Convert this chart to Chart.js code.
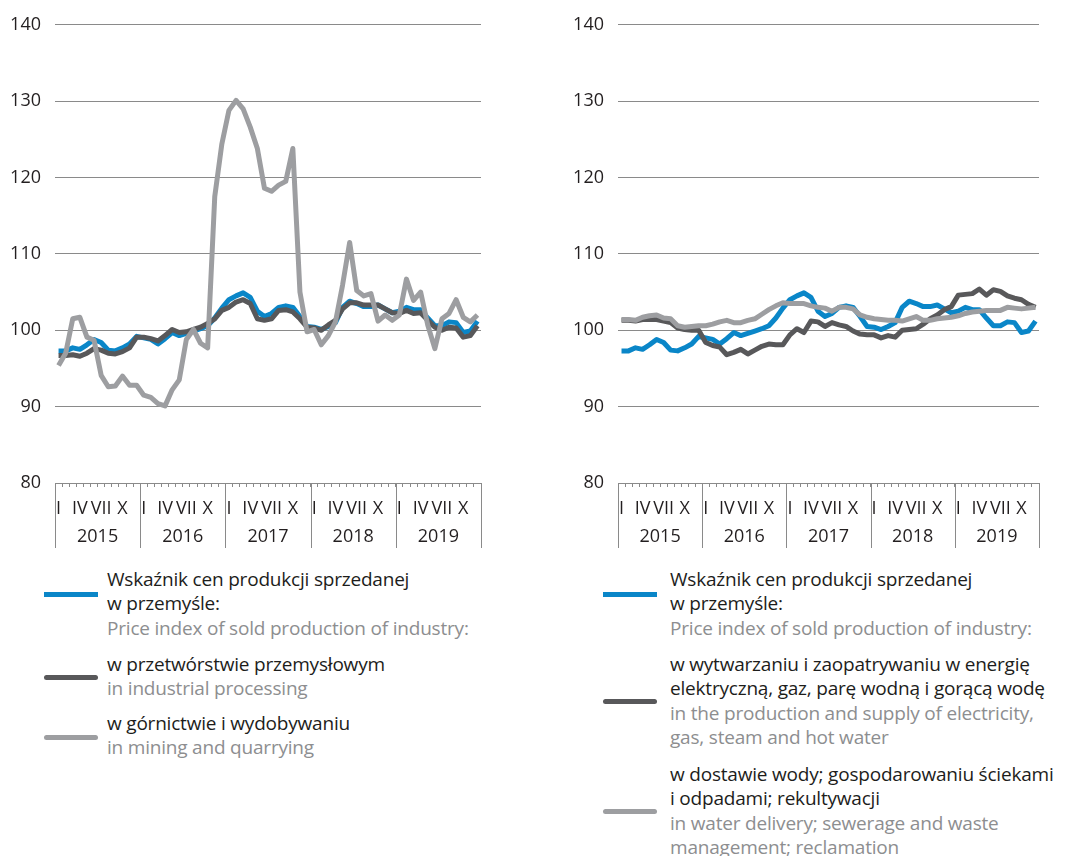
<!DOCTYPE html>
<html>
<head>
<meta charset="utf-8">
<script src="https://cdn.jsdelivr.net/npm/chart.js@4.4.1/dist/chart.umd.min.js"></script>
<style>
  body { margin: 0; background: #fff; }
  #page { position: relative; width: 1071px; height: 856px; overflow: hidden; font-family: 'Open Sans', sans-serif; }
  canvas { position: absolute; top: 0; }
  .item { position: absolute; font-size: 19px; line-height: 24.3px; white-space: nowrap; letter-spacing: -0.2px; }
  .pl { color: #1d1d1b; }
  .en { color: #8d8e90; }
  .swatch { position: absolute; width: 54px; height: 5px; border-radius: 3px; }
</style>
</head>
<body>
<div id="page">
  <canvas id="left" width="490" height="556" style="left:0"></canvas>
  <canvas id="right" width="485" height="556" style="left:563px"></canvas>

  <!-- left legend -->
  <div class="swatch" style="left:44px;top:592px;background:#0a86c8;border-radius:0"></div>
  <div class="item" style="left:107px;top:567px">
    <div class="pl">Wskaźnik cen produkcji sprzedanej</div>
    <div class="pl">w przemyśle:</div>
    <div class="en">Price index of sold production of industry:</div>
  </div>
  <div class="swatch" style="left:44px;top:675px;background:#58585a"></div>
  <div class="item" style="left:107px;top:652px">
    <div class="pl">w przetwórstwie przemysłowym</div>
    <div class="en">in industrial processing</div>
  </div>
  <div class="swatch" style="left:44px;top:735px;background:#9d9ea1"></div>
  <div class="item" style="left:107px;top:711px">
    <div class="pl">w górnictwie i wydobywaniu</div>
    <div class="en">in mining and quarrying</div>
  </div>

  <!-- right legend -->
  <div class="swatch" style="left:603px;top:592px;background:#0a86c8;border-radius:0"></div>
  <div class="item" style="left:670px;top:567px">
    <div class="pl">Wskaźnik cen produkcji sprzedanej</div>
    <div class="pl">w przemyśle:</div>
    <div class="en">Price index of sold production of industry:</div>
  </div>
  <div class="swatch" style="left:603px;top:699px;background:#58585a"></div>
  <div class="item" style="left:670px;top:652px">
    <div class="pl">w wytwarzaniu i zaopatrywaniu w energię</div>
    <div class="pl">elektryczną, gaz, parę wodną i gorącą wodę</div>
    <div class="en">in the production and supply of electricity,</div>
    <div class="en">gas, steam and hot water</div>
  </div>
  <div class="swatch" style="left:603px;top:809px;background:#9d9ea1"></div>
  <div class="item" style="left:670px;top:762px">
    <div class="pl">w dostawie wody; gospodarowaniu ściekami</div>
    <div class="pl">i odpadami; rekultywacji</div>
    <div class="en">in water delivery; sewerage and waste</div>
    <div class="en">management; reclamation</div>
  </div>
</div>

<script>
// data //
const YEARS = ['2015', '2016', '2017', '2018', '2019'];
const MONTHS = ['I', '', '', 'IV', '', '', 'VII', '', '', 'X', '', ''];

const INDUSTRY = [97.3, 97.3, 97.7, 97.5, 98.1, 98.8, 98.4, 97.4, 97.3, 97.7, 98.2, 99.2,
  99.0, 98.8, 98.2, 98.9, 99.7, 99.3, 99.6, 99.9, 100.2, 100.6, 101.6, 102.9,
  104.0, 104.5, 104.9, 104.3, 102.5, 101.8, 102.2, 103.0, 103.2, 103.0, 101.8, 100.5,
  100.4, 100.1, 100.5, 101.0, 103.0, 103.8, 103.5, 103.1, 103.1, 103.3, 102.8, 102.3,
  102.5, 103.0, 102.7, 102.7, 101.6, 100.6, 100.6, 101.1, 101.0, 99.7, 99.9, 101.2];

const PROCESSING = [96.7, 96.7, 96.8, 96.6, 97.0, 97.6, 97.4, 97.0, 96.9, 97.2, 97.7, 99.1,
  99.1, 98.9, 98.6, 99.3, 100.1, 99.7, 99.8, 100.1, 100.4, 100.9, 101.5, 102.6,
  103.0, 103.7, 104.0, 103.5, 101.5, 101.3, 101.5, 102.6, 102.7, 102.4, 101.5, 100.4,
  100.3, 100.0, 100.7, 101.3, 102.8, 103.6, 103.6, 103.3, 103.3, 103.3, 102.8, 102.3,
  102.2, 102.6, 102.2, 102.3, 101.3, 100.4, 100.0, 100.4, 100.3, 99.1, 99.3, 100.6];

const MINING = [95.4, 97.0, 101.5, 101.7, 99.1, 98.7, 94.1, 92.6, 92.7, 94.0, 92.8, 92.8,
  91.5, 91.2, 90.4, 90.1, 92.2, 93.5, 98.8, 100.1, 98.3, 97.7, 117.5, 124.4,
  128.8, 130.1, 129.0, 126.6, 123.8, 118.6, 118.2, 119.0, 119.5, 123.8, 105.0, 99.8,
  100.1, 98.1, 99.3, 101.1, 105.9, 111.5, 105.2, 104.5, 104.8, 101.2, 102.0, 101.3,
  102.0, 106.7, 103.9, 105.0, 100.7, 97.6, 101.5, 102.2, 104.0, 101.7, 101.1, 102.0];

const ENERGY = [101.3, 101.3, 101.2, 101.4, 101.4, 101.4, 101.2, 101.0, 100.3, 100.1, 100.0, 100.0,
  98.4, 98.0, 97.8, 96.8, 97.1, 97.5, 96.9, 97.4, 97.9, 98.2, 98.1, 98.1,
  99.4, 100.2, 99.7, 101.2, 101.1, 100.5, 101.0, 100.7, 100.5, 99.9, 99.5, 99.4,
  99.4, 99.0, 99.3, 99.1, 100.0, 100.1, 100.2, 100.8, 101.5, 102.0, 102.7, 103.1,
  104.6, 104.7, 104.8, 105.4, 104.6, 105.3, 105.1, 104.5, 104.2, 104.0, 103.4, 103.0];

const WATER = [101.4, 101.4, 101.3, 101.7, 101.9, 102.0, 101.6, 101.5, 100.6, 100.4, 100.5, 100.6,
  100.6, 100.8, 101.1, 101.3, 101.0, 101.0, 101.3, 101.5, 102.1, 102.7, 103.2, 103.6,
  103.5, 103.5, 103.5, 103.2, 103.0, 102.9, 102.5, 103.0, 103.0, 102.8, 102.0, 101.7,
  101.5, 101.4, 101.3, 101.3, 101.2, 101.5, 101.8, 101.3, 101.3, 101.5, 101.6, 101.7,
  101.9, 102.2, 102.4, 102.5, 102.6, 102.6, 102.6, 103.0, 102.9, 102.8, 102.9, 103.0];

const BLUE = '#0a86c8';
const DARK = '#58585a';
const LIGHT = '#9d9ea1';
const GRID = '#8a8a8a';
const FONT = { family: 'Open Sans', size: 18 };

// month i sits in the middle of its slot
const pts = arr => arr.map((v, i) => ({ x: i + 0.5, y: v }));

const line = (data, color, order) => ({
  data: pts(data),
  borderColor: color,
  borderWidth: 5,
  pointRadius: 0,
  tension: 0,
  borderJoinStyle: 'round',
  order: order
});

// vertical year separators under the plot
const yearLines = {
  id: 'yearLines',
  afterDraw(chart) {
    const ctx = chart.ctx;
    const x = chart.scales.x;
    const xy = chart.scales.xy;
    ctx.save();
    ctx.strokeStyle = GRID;
    ctx.lineWidth = 1;
    for (let k = 0; k <= YEARS.length; k++) {
      const px = Math.round(x.getPixelForValue(k * 12)) + 0.5;
      ctx.beginPath();
      ctx.moveTo(px, chart.chartArea.bottom);
      ctx.lineTo(px, xy.bottom);
      ctx.stroke();
    }
    ctx.restore();
  }
};

function makeChart(id, datasets) {
  const n = YEARS.length * 12;
  return new Chart(document.getElementById(id), {
    type: 'line',
    data: { datasets: datasets },
    options: {
      responsive: false,
      animation: false,
      layout: { padding: { top: 20, right: 9, bottom: 8, left: 0 } },
      plugins: { legend: { display: false }, tooltip: { enabled: false } },
      scales: {
        y: {
          min: 80, max: 140,
          ticks: { stepSize: 10, font: FONT, color: '#231f20', padding: 14 },
          grid: { color: GRID, drawTicks: false },
          border: { display: false },
          afterFit: s => { s.width = 55; }
        },
        x: {
          type: 'linear', position: 'bottom', weight: 0,
          min: 0, max: n,
          ticks: { stepSize: 1, maxTicksLimit: 100, display: false },
          grid: { drawOnChartArea: false, drawTicks: true, tickLength: 4, color: GRID },
          border: { display: true, color: GRID },
          afterFit: s => { s.height = 4; }
        },
        xm: {
          type: 'linear', position: 'bottom', weight: 1,
          min: 0, max: n,
          afterBuildTicks: s => {
            const t = [];
            for (let i = 0; i < n; i++) if (MONTHS[i % 12]) t.push({ value: i + 0.5 });
            s.ticks = t;
          },
          ticks: {
            autoSkip: false, maxRotation: 0, font: FONT, color: '#231f20', padding: 11,
            callback: v => MONTHS[Math.floor(v) % 12]
          },
          grid: { display: false, drawTicks: false },
          border: { display: false },
          afterFit: s => { s.height = 33; }
        },
        xy: {
          type: 'linear', position: 'bottom', weight: 2,
          min: 0, max: n,
          afterBuildTicks: s => { s.ticks = YEARS.map((y, k) => ({ value: k * 12 + 6 })); },
          ticks: {
            autoSkip: false, maxRotation: 0, font: FONT, color: '#231f20', padding: 6,
            callback: v => YEARS[Math.floor(v / 12)]
          },
          grid: { display: false, drawTicks: false },
          border: { display: false },
          afterFit: s => { s.height = 28; }
        }
      }
    },
    plugins: [yearLines]
  });
}

makeChart('left', [
  line(INDUSTRY, BLUE, 2),
  line(PROCESSING, DARK, 1),
  line(MINING, LIGHT, 0)
]);

makeChart('right', [
  line(INDUSTRY, BLUE, 2),
  line(ENERGY, DARK, 1),
  line(WATER, LIGHT, 0)
]);
</script>
</body>
</html>
